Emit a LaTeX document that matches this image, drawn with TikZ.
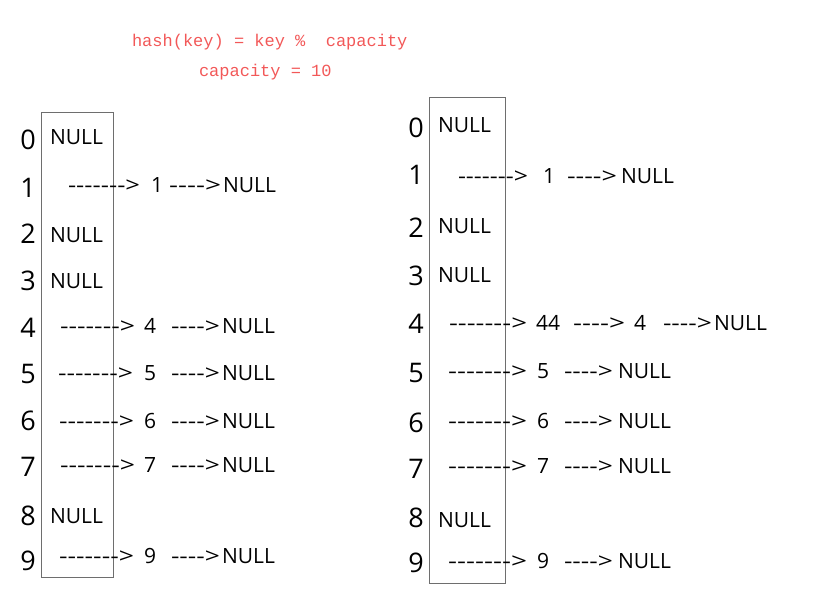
\documentclass[tikz,border=0pt]{standalone}
\usepackage{fontspec}
\setmainfont{Open Sans}[Ligatures=TeXOff]
\newfontfamily\monof{Liberation Mono}
\definecolor{titlered}{RGB}{242,88,88}
\definecolor{boxgray}{RGB}{110,110,110}
\newcommand\stretched[2]{\resizebox{#1pt}{\height}{#2}}
\begin{document}
\begin{tikzpicture}[x=1pt,y=-1pt,
  every node/.style={inner sep=0pt, outer sep=0pt, anchor=base west},
  idx/.style={anchor=base, font=\fontsize{27}{27}\selectfont},
  txt/.style={font=\fontsize{21}{21}\selectfont},
  ttl/.style={font=\monof\fontsize{17}{17}\selectfont, text=titlered},
  table/.style={draw=boxgray, line width=1pt}]
\useasboundingbox (0,0) rectangle (829,596);

% title
\node[ttl] (t1) at (132,47) {hash(key) = key \%\ \ capacity};
\node[ttl] (t2) at (199,77) {capacity = 10};

% tables
\draw[table] (41,113) rectangle (113,577);
\draw[table] (429,98) rectangle (505,583);

% ---------------- left table ----------------
\foreach \i/\b in {0/150,1/197,2/243,3/290,4/337,5/383,6/430,7/476,8/525,9/570}
  \node[idx] (L\i) at (28,\b) {\i};
\foreach \i/\b in {0/145,2/242,3/288,8/523}
  \node[txt] (LN\i) at (50,\b) {NULL};
% row 1
\node[txt] (LA1) at (68,193) {\stretched{72}{------->}};
\node[txt] (LV1) at (151,193) {1};
\node[txt] (LB1) at (169,193) {\stretched{52}{---->}};
\node[txt] (LE1) at (223,193) {NULL};
% rows 4..9
\foreach \i/\b/\x in {4/333/60,5/380/58,6/428/59,7/472/60,9/563/59}{
  \node[txt] (LA\i) at (\x,\b) {\stretched{75}{------->}};
  \node[txt] (LV\i) at (144,\b) {\i};
  \node[txt] (LB\i) at (171,\b) {\stretched{49}{---->}};
  \node[txt] (LE\i) at (222,\b) {NULL};
}

% ---------------- right table ----------------
\foreach \i/\b in {0/138,1/185,2/237,3/285,4/333,5/382,6/432,7/478,8/527,9/572}
  \node[idx] (R\i) at (416,\b) {\i};
\foreach \i/\b in {0/133,2/233,3/282,8/527}
  \node[txt] (RN\i) at (438,\b) {NULL};
% row 1
\node[txt] (RA1) at (458,183) {\stretched{70}{------->}};
\node[txt] (RV1) at (543,183) {1};
\node[txt] (RB1) at (567,183) {\stretched{50}{---->}};
\node[txt] (RE1) at (621,183) {NULL};
% row 4
\node[txt] (RA4) at (449,330) {\stretched{78}{------->}};
\node[txt] (RV4) at (536,330) {44};
\node[txt] (RB4) at (573,330) {\stretched{52}{---->}};
\node[txt] (RW4) at (634,330) {4};
\node[txt] (RC4) at (663,330) {\stretched{49}{---->}};
\node[txt] (RE4) at (714,330) {NULL};
% rows 5..9
\foreach \i/\b in {5/378,6/428,7/473,9/568}{
  \node[txt] (RA\i) at (448,\b) {\stretched{79}{------->}};
  \node[txt] (RV\i) at (537,\b) {\i};
  \node[txt] (RB\i) at (564,\b) {\stretched{49}{---->}};
  \node[txt] (RE\i) at (618,\b) {NULL};
}
\end{tikzpicture}
\end{document}
